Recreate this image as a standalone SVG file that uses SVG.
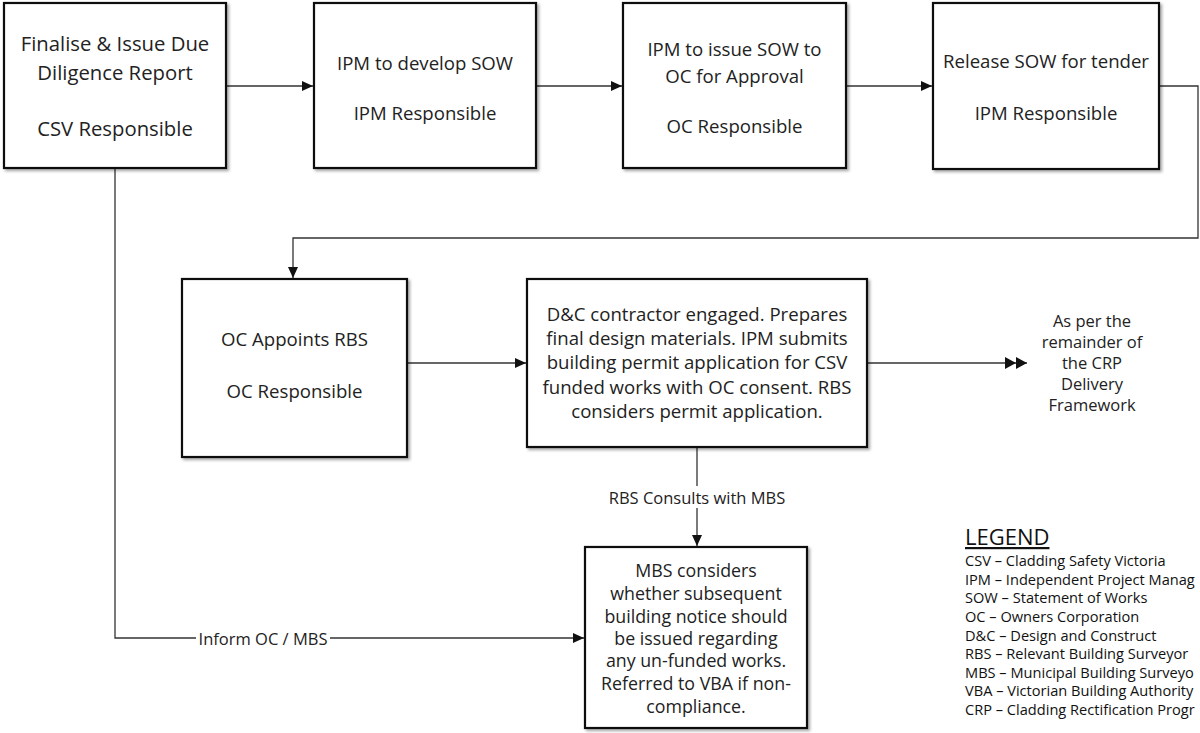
<svg xmlns="http://www.w3.org/2000/svg" width="1200" height="733" viewBox="0 0 1200 733">
<style>
.box{fill:#fff;stroke:#111;stroke-width:2.2}
.t{font-family:"Open Sans",Lato,sans-serif;font-size:18.6px;fill:#222;text-anchor:middle;dominant-baseline:central}
.t1{font-size:20.3px}
.t2{font-size:16.5px}
.t3{font-size:17.8px}
.c{fill:none;stroke:#333;stroke-width:1.3}
.lbl{font-family:"Open Sans",Lato,sans-serif;font-size:16.5px;fill:#222;dominant-baseline:central}
.lg{font-family:"Open Sans",Lato,sans-serif;font-size:14.6px;fill:#111}
</style>
<defs>
<marker id="ah" markerWidth="12" markerHeight="10" refX="11" refY="5" orient="auto" markerUnits="userSpaceOnUse">
<path d="M0,0 L11,5 L0,10 Z" fill="#111"/>
</marker>
<marker id="ah2" markerWidth="24" markerHeight="12" refX="22" refY="6" orient="auto" markerUnits="userSpaceOnUse">
<path d="M0,0 L11,6 L0,12 Z M11,0 L22,6 L11,12 Z" fill="#111"/>
</marker>
<filter id="ds" x="-5%" y="-5%" width="112%" height="112%">
<feDropShadow dx="2" dy="2" stdDeviation="1.5" flood-color="#000" flood-opacity="0.35"/>
</filter>
</defs>
<rect width="1200" height="733" fill="#fff"/>
<g id="connectors">
<path class="c" d="M226,86 H313" marker-end="url(#ah)"/>
<path class="c" d="M536,86 H622" marker-end="url(#ah)"/>
<path class="c" d="M846,86 H932" marker-end="url(#ah)"/>
<path class="c" d="M1159,86 H1198 V238 H293 V278" marker-end="url(#ah)"/>
<path class="c" d="M407,363 H526" marker-end="url(#ah)"/>
<path class="c" d="M867,363 H1027" marker-end="url(#ah2)"/>
<path class="c" d="M697,447 V486"/>
<path class="c" d="M697,508 V546" marker-end="url(#ah)"/>
<text class="lbl" x="697" y="497" text-anchor="middle">RBS Consults with MBS</text>
<path class="c" d="M115,168 V638 H196"/>
<path class="c" d="M330,638 H584" marker-end="url(#ah)"/>
<text class="lbl" x="263" y="638" text-anchor="middle">Inform OC / MBS</text>
</g>
<g id="n1">
<rect class="box" x="4" y="3" width="222" height="165" filter="url(#ds)"/>
<text class="t t1" x="115" y="43">Finalise &amp; Issue Due</text>
<text class="t t1" x="115" y="72">Diligence Report</text>
<text class="t t1" x="115" y="128">CSV Responsible</text>
</g>
<g id="n2">
<rect class="box" x="314" y="3" width="222" height="165" filter="url(#ds)"/>
<text class="t" x="425" y="62">IPM to develop SOW</text>
<text class="t" x="425" y="112">IPM Responsible</text>
</g>
<g id="n3">
<rect class="box" x="623" y="3" width="223" height="165" filter="url(#ds)"/>
<text class="t" x="734.5" y="48">IPM to issue SOW to</text>
<text class="t" x="734.5" y="75">OC for Approval</text>
<text class="t" x="734.5" y="125">OC Responsible</text>
</g>
<g id="n4">
<rect class="box" x="933" y="3" width="226" height="166" filter="url(#ds)"/>
<text class="t" x="1046" y="60">Release SOW for tender</text>
<text class="t" x="1046" y="112">IPM Responsible</text>
</g>
<g id="n5">
<rect class="box" x="182" y="279" width="225" height="178" filter="url(#ds)"/>
<text class="t" x="294.5" y="338">OC Appoints RBS</text>
<text class="t" x="294.5" y="390">OC Responsible</text>
</g>
<g id="n6">
<rect class="box" x="527" y="279" width="340" height="168" filter="url(#ds)"/>
<text class="t" x="697" y="313">D&amp;C contractor engaged. Prepares</text>
<text class="t" x="697" y="337">final design materials. IPM submits</text>
<text class="t" x="697" y="361">building permit application for CSV</text>
<text class="t" x="697" y="386">funded works with OC consent. RBS</text>
<text class="t" x="697" y="410">considers permit application.</text>
</g>
<g id="n7">
<rect class="box" x="585" y="547" width="222" height="181" filter="url(#ds)"/>
<text class="t t3" x="696" y="570">MBS considers</text>
<text class="t t3" x="696" y="593">whether subsequent</text>
<text class="t t3" x="696" y="616">building notice should</text>
<text class="t t3" x="696" y="638">be issued regarding</text>
<text class="t t3" x="696" y="660">any un-funded works.</text>
<text class="t t3" x="696" y="683">Referred to VBA if non-</text>
<text class="t t3" x="696" y="706">compliance.</text>
</g>
<g id="n8">
<text class="t t2" x="1092" y="320">As per the</text>
<text class="t t2" x="1092" y="341">remainder of</text>
<text class="t t2" x="1092" y="362">the CRP</text>
<text class="t t2" x="1092" y="383">Delivery</text>
<text class="t t2" x="1092" y="404">Framework</text>
</g>
<g id="legend">
<text x="965" y="545" style="font-family:'Open Sans',Lato,sans-serif;font-size:22px;fill:#111;text-decoration:underline">LEGEND</text>
<text class="lg" x="965" y="566">CSV – Cladding Safety Victoria</text>
<text class="lg" x="965" y="585">IPM – Independent Project Manag</text>
<text class="lg" x="965" y="603">SOW – Statement of Works</text>
<text class="lg" x="965" y="622">OC – Owners Corporation</text>
<text class="lg" x="965" y="641">D&amp;C – Design and Construct</text>
<text class="lg" x="965" y="659">RBS – Relevant Building Surveyor</text>
<text class="lg" x="965" y="678">MBS – Municipal Building Surveyo</text>
<text class="lg" x="965" y="696">VBA – Victorian Building Authority</text>
<text class="lg" x="965" y="715">CRP – Cladding Rectification Progr</text>
</g>
</svg>
